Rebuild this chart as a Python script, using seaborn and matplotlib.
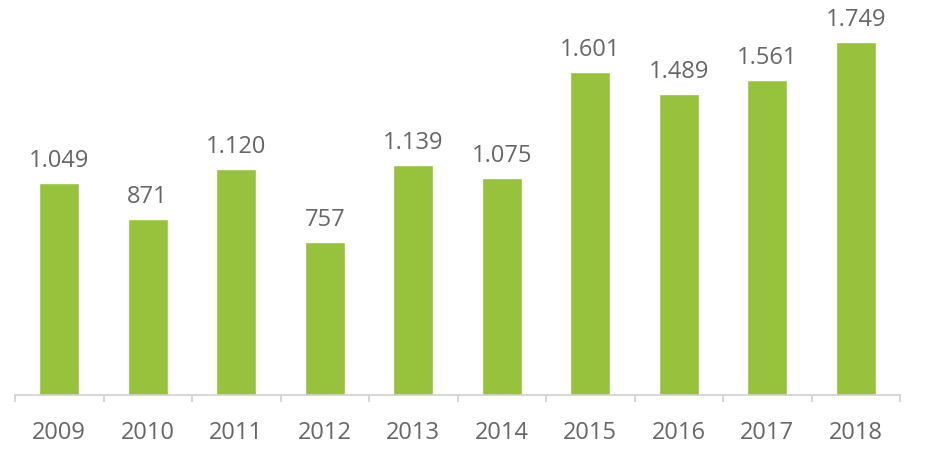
import numpy as np
import pandas as pd
import matplotlib.pyplot as plt
import seaborn as sns

# data
years = ['2009', '2010', '2011', '2012', '2013', '2014', '2015', '2016', '2017', '2018']
values = [1049, 871, 1120, 757, 1139, 1075, 1601, 1489, 1561, 1749]

df = pd.DataFrame({'year': years, 'value': values})

sns.set_style('white')
plt.rcParams['font.family'] = ['Open Sans', 'DejaVu Sans']

fig = plt.figure(figsize=(9.33, 4.59), dpi=100)
ax = fig.add_axes([15 / 933, 64 / 459, 885 / 933, 390 / 459])

sns.barplot(data=df, x='year', y='value', color='#97c23c', width=0.45,
            saturation=1, ax=ax)

# value labels above bars, with dot as thousands separator
for i, v in enumerate(values):
    label = f'{v:,}'.replace(',', '.')
    ax.text(i, v + 50, label, ha='center', va='bottom', fontsize=17, color='#666666')

ax.set_ylim(0, 1932)
ax.set_xlim(-0.5, len(years) - 0.5)
ax.set_xlabel('')
ax.set_ylabel('')
ax.set_yticks([])

for side in ['top', 'right', 'left']:
    ax.spines[side].set_visible(False)
ax.spines['bottom'].set_color('#d0d0d0')
ax.spines['bottom'].set_linewidth(1.2)

ax.set_xticks(np.arange(-0.5, len(years)), minor=True)
ax.tick_params(axis='x', which='minor', length=5, color='#d0d0d0', width=1.2, bottom=True)
ax.tick_params(axis='x', which='major', length=0, pad=19, labelsize=17, labelcolor='#666666')

fig.savefig('out.png', dpi=100)
